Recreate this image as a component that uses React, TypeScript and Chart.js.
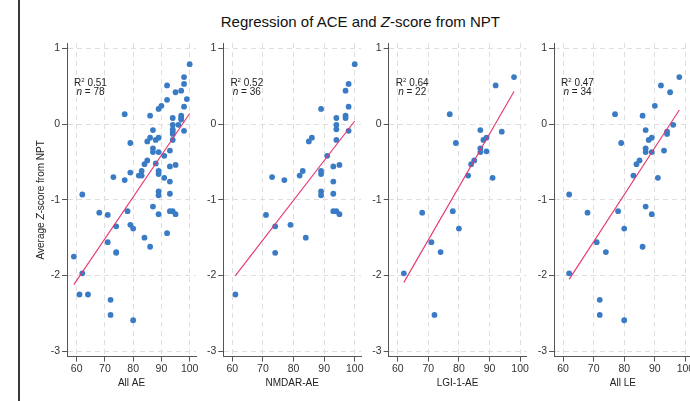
import React, { useEffect, useRef } from "react";
import { Chart, registerables } from "chart.js";

Chart.register(...registerables);

// ---------------- data ----------------
const xTickValues = [60, 70, 80, 90, 100];
const yTickValues = [1, 0, -1, -2, -3];
const panelLabels = ["All AE", "NMDAR-AE", "LGI-1-AE", "All LE"];
const r2Values = ["0.51", "0.52", "0.64", "0.47"];
const nValues = [78, 36, 22, 34];

const allAeX = [59, 61, 62, 62, 64, 68, 71, 71, 72, 72, 73, 74, 74, 74, 77, 77, 78, 79, 79, 79, 80, 80, 82, 83, 83, 84, 84, 85, 85, 86, 86, 86, 87, 87, 87, 87, 88, 88, 89, 89, 89, 89, 89, 89, 89, 89, 90, 91, 91, 92, 92, 92, 93, 93, 93, 93, 93, 94, 94, 94, 94, 94, 94, 94, 95, 95, 95, 96, 97, 97, 97, 97, 98, 98, 98, 98, 99, 100];
const allAeY = [-1.75, -2.25, -0.93, -1.97, -2.25, -1.17, -1.2, -1.56, -2.32, -2.52, -0.7, -1.35, -1.7, -1.69, -0.74, 0.13, -1.15, -1.33, -0.25, -0.64, -1.38, -2.59, -0.68, -0.62, -0.68, -1.5, -0.53, -0.23, -0.48, -0.18, 0.11, -1.62, -0.08, -0.32, -0.37, -1.09, -0.21, -0.52, 0.2, -0.62, -0.66, -0.89, -0.94, -0.18, -0.37, -1.19, 0.24, -0.42, -0.71, 0.51, 0.32, -1.44, -0.56, -0.76, -0.92, -1.15, -0.35, -1.15, 0.08, -0.01, -0.07, -0.21, -0.1, -0.13, -0.54, -1.19, 0.42, -0.01, 0.44, 0.11, 0.08, 0.06, 0.53, 0.23, -0.09, 0.62, 0.33, 0.79];

const nmdarX = [61, 71, 73, 74, 74, 77, 79, 82, 83, 84, 85, 86, 89, 89, 89, 89, 89, 91, 93, 93, 93, 93, 94, 94, 94, 94, 94, 95, 95, 97, 97, 97, 98, 98, 98, 100];
const nmdarY = [-2.25, -1.2, -0.7, -1.35, -1.7, -0.74, -1.33, -0.68, -0.62, -1.5, -0.23, -0.18, 0.2, -0.62, -0.66, -0.89, -0.94, -0.42, -0.56, -0.76, -0.92, -1.15, -1.15, 0.08, -0.01, -0.07, -0.21, -0.54, -1.19, 0.44, 0.11, 0.08, 0.53, 0.23, -0.09, 0.79];

const lgiX = [62, 68, 71, 72, 74, 77, 78, 79, 80, 83, 84, 85, 87, 87, 87, 88, 89, 89, 91, 92, 94, 98];
const lgiY = [-1.97, -1.17, -1.56, -2.52, -1.69, 0.13, -1.15, -0.25, -1.38, -0.68, -0.53, -0.48, -0.08, -0.32, -0.37, -0.21, -0.18, -0.36, -0.71, 0.51, -0.1, 0.62];

const allLeX = [62, 62, 68, 71, 72, 72, 74, 77, 78, 79, 80, 80, 83, 84, 85, 86, 86, 87, 87, 87, 87, 88, 89, 89, 89, 90, 91, 92, 93, 94, 94, 95, 96, 98];
const allLeY = [-0.93, -1.97, -1.17, -1.56, -2.32, -2.52, -1.69, 0.13, -1.15, -0.25, -1.38, -2.59, -0.68, -0.53, -0.48, 0.11, -1.62, -0.08, -0.32, -0.37, -1.09, -0.21, -0.18, -0.37, -1.19, 0.24, -0.71, 0.51, -0.35, -0.1, -0.13, 0.42, -0.01, 0.62];

// fitted regression line end points
const fitX = [[59, 100], [61, 100], [62, 98], [62, 98]];
const fitY = [[-2.12, 0.14], [-2.0, 0.04], [-2.09, 0.43], [-2.05, 0.185]];

const panelX = [allAeX, nmdarX, lgiX, allLeX];
const panelY = [allAeY, nmdarY, lgiY, allLeY];

// ---------------- layout / style ----------------
const FONT = '"Liberation Sans", Arial, Helvetica, sans-serif';
const H = 401;
const PLOT_TOP = 43;
const PLOT_BOTTOM = 356.6;
const Y_MIN = -3.07;
const Y_MAX = 1.07;
const YW = 40;
const RIGHT_PAD = 14;
const PANELS = [
  { left: 67, width: 129, xMin: 56.58, xMax: 102.24 },
  { left: 223.3, width: 137.7, xMin: 57.05, xMax: 102.05 },
  { left: 388.7, width: 137.7, xMin: 57.05, xMax: 102.05 },
  { left: 554, width: 137.7, xMin: 57.05, xMax: 102.05 },
];
const DOT_COLOR = "#3a7bc5";
const FIT_COLOR = "#e6336c";
const AXIS_COLOR = "#555555";
const GRID_COLOR = "#dedede";
const TEXT_COLOR = "#222222";

function geom(p: any) {
  const raw = p.left - YW;
  const cl = Math.floor(raw);
  const padLeft = raw - cl;
  const cw = Math.ceil(padLeft + YW + p.width + RIGHT_PAD);
  return { cl, padLeft, cw, rightPad: cw - (padLeft + YW + p.width) };
}

type Seg = { text: string; font: string; dy?: number };

function drawSegs(ctx: CanvasRenderingContext2D, segs: Seg[], cx: number, y: number) {
  let total = 0;
  const widths = segs.map((s) => {
    ctx.font = s.font;
    const w = ctx.measureText(s.text).width;
    total += w;
    return w;
  });
  let x = cx - total / 2;
  ctx.textAlign = "left";
  segs.forEach((s, k) => {
    ctx.font = s.font;
    ctx.fillText(s.text, x, y + (s.dy || 0));
    x += widths[k];
  });
}

function textPlugin(i: number, canvasLeft: number) {
  return {
    id: "panelText" + i,
    afterDraw(chart: any) {
      const { ctx, chartArea } = chart;
      ctx.save();
      ctx.fillStyle = TEXT_COLOR;
      ctx.textBaseline = "alphabetic";
      // x axis title
      ctx.font = `10px ${FONT}`;
      ctx.textAlign = "center";
      ctx.fillText(panelLabels[i], (chartArea.left + chartArea.right) / 2, 386);
      // annotation
      const cx = chartArea.left + 23.5;
      drawSegs(
        ctx,
        [
          { text: "R", font: `10px ${FONT}` },
          { text: "2", font: `6px ${FONT}`, dy: -4 },
          { text: " " + r2Values[i], font: `10px ${FONT}` },
        ],
        cx,
        85.7
      );
      drawSegs(
        ctx,
        [
          { text: "n", font: `italic 10px ${FONT}` },
          { text: " = " + nValues[i], font: `10px ${FONT}` },
        ],
        cx,
        94.7
      );
      if (i === 0) {
        ctx.save();
        ctx.translate(44 - canvasLeft, (PLOT_TOP + PLOT_BOTTOM) / 2);
        ctx.rotate(-Math.PI / 2);
        drawSegs(
          ctx,
          [
            { text: "Average ", font: `10px ${FONT}` },
            { text: "Z", font: `italic 10px ${FONT}` },
            { text: "-score from NPT", font: `10px ${FONT}` },
          ],
          0,
          0
        );
        ctx.restore();
      }
      ctx.restore();
    },
  };
}

function makeChart(canvas: HTMLCanvasElement, i: number) {
  const p = PANELS[i];
  const g = geom(p);
  const pts = panelX[i].map((x, k) => ({ x, y: panelY[i][k] }));
  const fit = fitX[i].map((x, k) => ({ x, y: fitY[i][k] }));
  const tickFont = { family: FONT, size: 10.5 };
  const grid = {
    color: GRID_COLOR,
    lineWidth: 1,
    tickColor: AXIS_COLOR,
    tickLength: 5,
    tickWidth: 1,
  };
  const border = { display: true, color: AXIS_COLOR, width: 1, dash: [5, 4] };
  return new Chart(canvas, {
    type: "scatter",
    data: {
      datasets: [
        {
          data: fit,
          showLine: true,
          borderColor: FIT_COLOR,
          borderWidth: 1.1,
          pointRadius: 0,
          pointHoverRadius: 0,
        },
        {
          data: pts,
          pointRadius: 2.9,
          pointHoverRadius: 2.9,
          backgroundColor: DOT_COLOR,
          borderWidth: 0,
        },
      ],
    },
    options: {
      responsive: false,
      animation: false,
      events: [],
      devicePixelRatio: 1,
      layout: { padding: { left: g.padLeft, top: PLOT_TOP, right: g.rightPad, bottom: 0 } },
      plugins: { legend: { display: false }, tooltip: { enabled: false } },
      scales: {
        x: {
          type: "linear",
          position: "bottom",
          min: p.xMin,
          max: p.xMax,
          afterBuildTicks: (s: any) => {
            s.ticks = xTickValues.map((v) => ({ value: v }));
          },
          afterFit: (s: any) => {
            s.height = H - PLOT_BOTTOM;
          },
          ticks: { font: tickFont, color: "#333", padding: 1, maxRotation: 0, autoSkip: false },
          grid,
          border,
        },
        y: {
          type: "linear",
          position: "left",
          min: Y_MIN,
          max: Y_MAX,
          afterBuildTicks: (s: any) => {
            s.ticks = yTickValues.map((v) => ({ value: v }));
          },
          afterFit: (s: any) => {
            s.width = YW;
          },
          ticks: { font: tickFont, color: "#333", padding: 2, autoSkip: false },
          grid,
          border,
        },
      },
    } as any,
    plugins: [textPlugin(i, g.cl)],
  });
}

export default function App() {
  const r0 = useRef<HTMLCanvasElement>(null);
  const r1 = useRef<HTMLCanvasElement>(null);
  const r2 = useRef<HTMLCanvasElement>(null);
  const r3 = useRef<HTMLCanvasElement>(null);
  const refs = [r0, r1, r2, r3];

  useEffect(() => {
    const charts = refs.map((r, i) => makeChart(r.current as HTMLCanvasElement, i));
    return () => charts.forEach((c) => c.destroy());
  }, []);

  return (
    <div
      style={{
        position: "absolute",
        left: 0,
        top: 0,
        width: 690,
        height: H,
        overflow: "hidden",
        background: "#fff",
      }}
    >
      <div style={{ position: "absolute", left: 18, top: 0, width: 2, height: H, background: "#3a3a3a" }} />
      <div
        style={{
          position: "absolute",
          left: 360.4,
          top: 13.1,
          transform: "translateX(-50%)",
          whiteSpace: "nowrap",
          fontFamily: FONT,
          fontSize: 15,
          lineHeight: "18px",
          color: "#111",
        }}
      >
        Regression of ACE and <i>Z</i>-score from NPT
      </div>
      {PANELS.map((p, i) => {
        const g = geom(p);
        return (
          <canvas
            key={i}
            ref={refs[i]}
            width={g.cw}
            height={H}
            style={{ position: "absolute", left: g.cl, top: 0, width: g.cw, height: H }}
          />
        );
      })}
    </div>
  );
}
